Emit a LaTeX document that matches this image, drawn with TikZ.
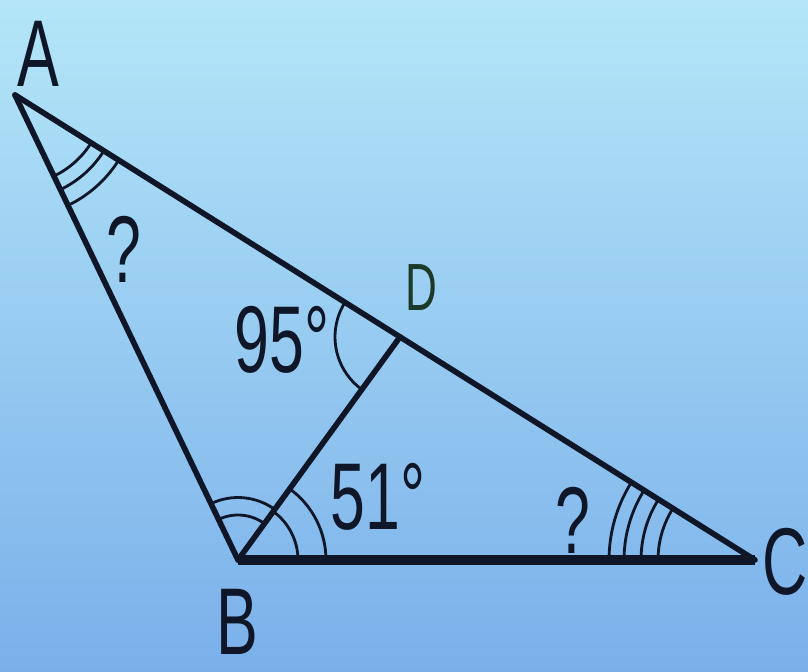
\documentclass[tikz,border=0pt]{standalone}
\usepackage{fontspec}
\setmainfont{Liberation Sans}
\usetikzlibrary{angles,calc}

\definecolor{skytop}{RGB}{180,230,248}
\definecolor{skybot}{RGB}{122,176,234}
\definecolor{ink}{RGB}{15,22,40}
\definecolor{inkd}{RGB}{28,58,40}

\tikzset{
	side/.style={line width=3.2pt, draw=ink, line cap=round, line join=round},
	base/.style={line width=5.6pt, draw=ink},
	arcmark/.style={draw=ink, line width=1.6pt},
	lbl/.style={text=ink, font=\fontsize{54}{60}\selectfont, xscale=0.66, inner sep=0pt},
}

\begin{document}
\begin{tikzpicture}[x=0.02cm, y=0.02cm]

		\shade[top color=skytop, bottom color=skybot] (0,0) rectangle (808,672);
		\useasboundingbox (0,0) rectangle (808,672);

		\coordinate (A) at (15,577);
		\coordinate (B) at (238,112);
		\coordinate (C) at (755,112);
		\coordinate (D) at ($(A)!0.5203!(C)$);

		\foreach \r in {1.8,2.1,2.45}
			\pic[arcmark, angle radius=\r cm] {angle=B--A--C};
		\foreach \r in {1.94,2.28,2.62,2.92}
			\pic[arcmark, angle radius=\r cm] {angle=A--C--B};
		\foreach \r in {0.9,1.25}
			\pic[arcmark, angle radius=\r cm] {angle=D--B--A};
		\foreach \r in {1.2,1.76}
			\pic[arcmark, angle radius=\r cm] {angle=C--B--D};
		\pic[arcmark, angle radius=1.3cm] {angle=A--D--B};

		\draw[side] (A) -- (B);
		\draw[side] (A) -- (C);
		\draw[side] (B) -- (D);
		\draw[base] (B) -- (C);

		\node[lbl] (lA) at (38,618) {A};
		\node[lbl] (lB) at (237,50) {B};
		\node[lbl] (lC) at (785,110) {C};
		\node[lbl, text=inkd, font=\fontsize{38}{44}\selectfont] (lD) at (421,384) {D};

		\node[lbl] (qA) at (124,423) {?};
		\node[lbl] (qC) at (573,152) {?};
		\node[lbl] (aD) at (282,332) {95°};
		\node[lbl] (aB) at (378,175) {51°};

	\end{tikzpicture}
\end{document}
